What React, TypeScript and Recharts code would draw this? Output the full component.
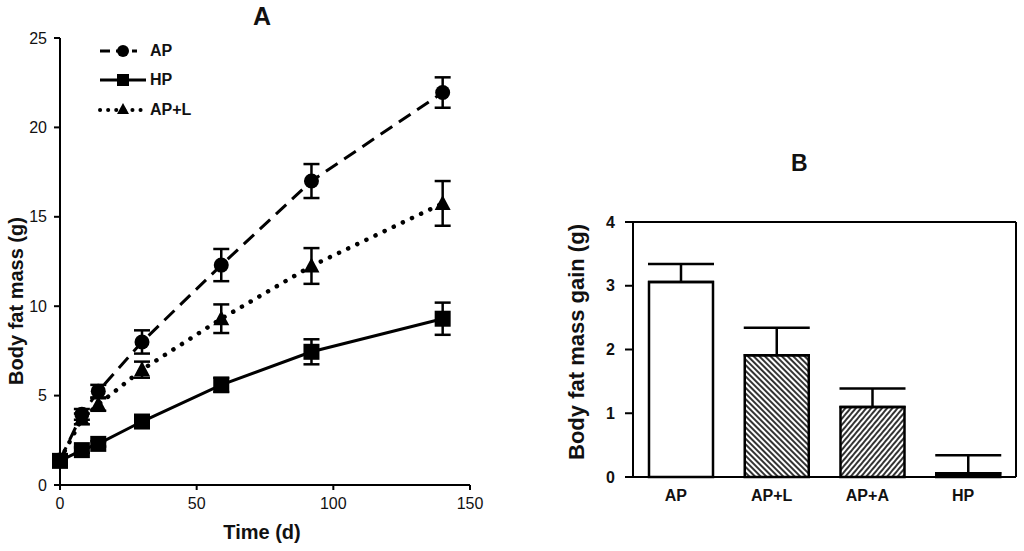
import {
  LineChart,
  Line,
  BarChart,
  Bar,
  Cell,
  XAxis,
  YAxis,
  ErrorBar,
  Legend,
  CartesianGrid,
} from 'recharts'

// Panel A: body fat mass over time
const DAYS = [0, 8, 14, 30, 59, 92, 140]
const AP_MEAN = [1.4, 3.95, 5.25, 8.0, 12.3, 17.0, 21.95]
const AP_SEM = [0.1, 0.3, 0.35, 0.65, 0.9, 0.95, 0.85]
const HP_MEAN = [1.35, 1.95, 2.3, 3.55, 5.6, 7.45, 9.3]
const HP_SEM = [0.1, 0.15, 0.15, 0.2, 0.4, 0.7, 0.9]
const APL_MEAN = [1.4, 3.7, 4.5, 6.45, 9.3, 12.25, 15.75]
const APL_SEM = [0.1, 0.3, 0.35, 0.45, 0.8, 1.0, 1.25]
const X_TICKS = [0, 50, 100, 150]
const Y_TICKS_A = [0, 5, 10, 15, 20, 25]

// Panel B: body fat mass gain per group
const GROUPS = ['AP', 'AP+L', 'AP+A', 'HP']
const GAIN = [3.06, 1.91, 1.1, 0.06]
const GAIN_SEM = [0.28, 0.43, 0.29, 0.28]
const GROUP_FILLS = ['#ffffff', 'url(#hatchBack)', 'url(#hatchFwd)', '#000000']
const Y_TICKS_B = [0, 1, 2, 3, 4]

const FONT = '"Liberation Sans", Arial, sans-serif'
const INK = '#111'

const lineData = DAYS.map((d, i) => ({
  day: d,
  ap: AP_MEAN[i],
  apErr: AP_SEM[i],
  hp: HP_MEAN[i],
  hpErr: HP_SEM[i],
  apl: APL_MEAN[i],
  aplErr: APL_SEM[i],
}))

const barData = GROUPS.map((g, i) => ({
  group: g,
  gain: GAIN[i],
  err: [0, GAIN_SEM[i]],
}))

function Circle(p: any) {
  if (p.cx == null) return <g key={`c-${p.index}`} />
  return <circle key={`c-${p.index}`} cx={p.cx} cy={p.cy} r={7.5} fill="#000" />
}

function Square(p: any) {
  if (p.cx == null) return <g key={`s-${p.index}`} />
  return <rect key={`s-${p.index}`} x={p.cx - 8} y={p.cy - 8} width={16} height={16} fill="#000" />
}

function Triangle(p: any) {
  if (p.cx == null) return <g key={`t-${p.index}`} />
  const { cx, cy } = p
  return (
    <path
      key={`t-${p.index}`}
      d={`M${cx},${cy - 8.5} L${cx + 8},${cy + 6.5} L${cx - 8},${cy + 6.5} Z`}
      fill="#000"
    />
  )
}

function LegendA() {
  const txt = { fontFamily: FONT, fontSize: 16, fontWeight: 700, fill: INK }
  return (
    <svg width={130} height={90}>
      <line x1={5} y1={16} x2={42} y2={16} stroke="#000" strokeWidth={3} strokeDasharray="10 6" />
      <circle cx={28} cy={16} r={6} fill="#000" />
      <text x={55} y={21} {...txt}>AP</text>
      <line x1={5} y1={45} x2={51} y2={45} stroke="#000" strokeWidth={3} />
      <rect x={22} y={39} width={12} height={12} fill="#000" />
      <text x={55} y={50} {...txt}>HP</text>
      <line
        x1={5}
        y1={75}
        x2={46}
        y2={75}
        stroke="#000"
        strokeWidth={4}
        strokeDasharray="0.1 8"
        strokeLinecap="round"
      />
      <path d="M28,68 L34,79 L22,79 Z" fill="#000" />
      <text x={55} y={80} {...txt}>AP+L</text>
    </svg>
  )
}

const tickA = { fill: INK, fontSize: 16, fontFamily: FONT }
const tickB = { fill: INK, fontSize: 16, fontFamily: FONT, fontWeight: 700 }

export default function App() {
  return (
    <div
      style={{
        position: 'absolute',
        left: 0,
        top: 0,
        width: 1024,
        height: 551,
        background: '#fff',
        fontFamily: FONT,
        color: INK,
        overflow: 'hidden',
      }}
    >
      {/* Panel A */}
      <div style={{ position: 'absolute', left: 0, top: 0 }}>
        <LineChart width={500} height={551} data={lineData} margin={{ top: 38, right: 30, bottom: 26, left: 0 }}>
          <XAxis
            dataKey="day"
            type="number"
            domain={[0, 150]}
            ticks={X_TICKS}
            tick={tickA}
            tickSize={5}
            tickMargin={8}
            height={40}
            axisLine={{ stroke: '#000', strokeWidth: 2 }}
            tickLine={{ stroke: '#000', strokeWidth: 2 }}
          />
          <YAxis
            type="number"
            domain={[0, 25]}
            ticks={Y_TICKS_A}
            tick={tickA}
            tickSize={6}
            tickMargin={7}
            width={60}
            axisLine={{ stroke: '#000', strokeWidth: 2 }}
            tickLine={{ stroke: '#000', strokeWidth: 2 }}
          />
          <Legend
            layout="vertical"
            align="center"
            verticalAlign="middle"
            content={LegendA}
            wrapperStyle={{ left: 95, top: 35, width: 130, height: 90 }}
          />
          <Line
            type="linear"
            dataKey="hp"
            stroke="#000"
            strokeWidth={3}
            dot={Square}
            activeDot={false}
            isAnimationActive={false}
          >
            <ErrorBar dataKey="hpErr" width={8} stroke="#000" strokeWidth={2.5} direction="y" />
          </Line>
          <Line
            type="linear"
            dataKey="apl"
            stroke="#000"
            strokeWidth={4.5}
            strokeDasharray="0.1 10"
            strokeLinecap="round"
            dot={Triangle}
            activeDot={false}
            isAnimationActive={false}
          >
            <ErrorBar dataKey="aplErr" width={8} stroke="#000" strokeWidth={2.5} direction="y" />
          </Line>
          <Line
            type="linear"
            dataKey="ap"
            stroke="#000"
            strokeWidth={3}
            strokeDasharray="14 8"
            dot={Circle}
            activeDot={false}
            isAnimationActive={false}
          >
            <ErrorBar dataKey="apErr" width={8} stroke="#000" strokeWidth={2.5} direction="y" />
          </Line>
        </LineChart>
      </div>
      <div style={{ position: 'absolute', left: 253, top: 2, fontSize: 25, fontWeight: 700 }}>A</div>
      <div
        style={{
          position: 'absolute',
          left: 262,
          top: 532,
          transform: 'translate(-50%, -50%)',
          fontSize: 20,
          fontWeight: 700,
          whiteSpace: 'nowrap',
        }}
      >
        Time (d)
      </div>
      <div
        style={{
          position: 'absolute',
          left: 16,
          top: 301,
          transform: 'translate(-50%, -50%) rotate(-90deg)',
          fontSize: 20,
          fontWeight: 700,
          whiteSpace: 'nowrap',
        }}
      >
        Body fat mass (g)
      </div>

      {/* Panel B */}
      <div style={{ position: 'absolute', left: 560, top: 0 }}>
        <BarChart width={464} height={551} data={barData} margin={{ top: 222, right: 8, bottom: 34, left: 0 }}>
          <defs>
            <pattern id="hatchBack" patternUnits="userSpaceOnUse" width={4} height={4} patternTransform="rotate(-45)">
              <rect width={4} height={4} fill="#fff" />
              <line x1={1} y1={0} x2={1} y2={4} stroke="#000" strokeWidth={1.6} />
            </pattern>
            <pattern id="hatchFwd" patternUnits="userSpaceOnUse" width={4} height={4} patternTransform="rotate(40)">
              <rect width={4} height={4} fill="#fff" />
              <line x1={1} y1={0} x2={1} y2={4} stroke="#000" strokeWidth={1.6} />
            </pattern>
          </defs>
          <CartesianGrid
            stroke="#000"
            strokeWidth={2}
            fill="none"
            horizontalCoordinatesGenerator={({ offset }: any) => [offset.top]}
            verticalCoordinatesGenerator={({ offset }: any) => [offset.left + offset.width]}
          />
          <XAxis
            dataKey="group"
            tick={{ ...tickB, dx: -5 }}
            tickLine={false}
            tickSize={0}
            tickMargin={13}
            height={40}
            axisLine={{ stroke: '#000', strokeWidth: 2 }}
          />
          <YAxis
            type="number"
            domain={[0, 4]}
            ticks={Y_TICKS_B}
            tick={tickB}
            tickSize={8}
            tickMargin={10}
            width={73}
            axisLine={{ stroke: '#000', strokeWidth: 2 }}
            tickLine={{ stroke: '#000', strokeWidth: 2 }}
          />
          <Bar dataKey="gain" barSize={64} stroke="#000" strokeWidth={2.5} isAnimationActive={false}>
            {barData.map((d, i) => (
              <Cell key={d.group} fill={GROUP_FILLS[i]} />
            ))}
            <ErrorBar dataKey="err" width={33} stroke="#000" strokeWidth={2.5} direction="y" />
          </Bar>
        </BarChart>
      </div>
      <div style={{ position: 'absolute', left: 791, top: 150, fontSize: 23, fontWeight: 700 }}>B</div>
      <div
        style={{
          position: 'absolute',
          left: 577,
          top: 342,
          transform: 'translate(-50%, -50%) rotate(-90deg)',
          fontSize: 22,
          fontWeight: 700,
          whiteSpace: 'nowrap',
        }}
      >
        Body fat mass gain (g)
      </div>
    </div>
  )
}
